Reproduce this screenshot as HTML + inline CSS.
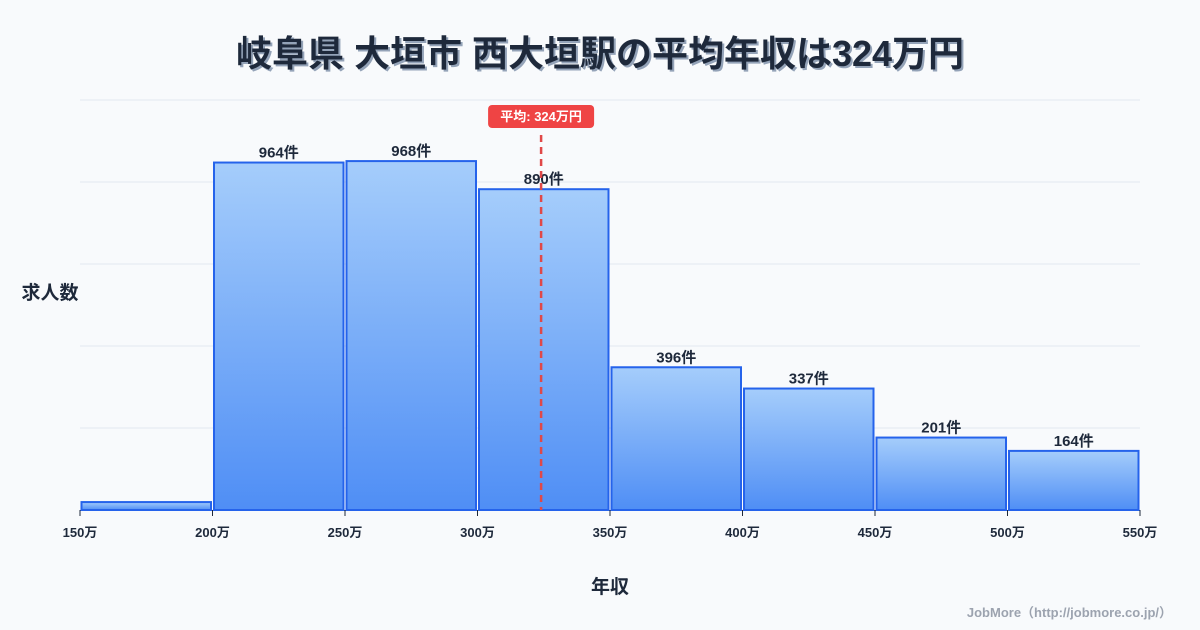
<!DOCTYPE html>
<html><head><meta charset="utf-8"><style>
body{margin:0;background:#f8fafc;}
svg{display:block;font-family:"Liberation Sans","Noto Sans CJK JP",sans-serif;}
</style></head><body>
<svg width="1200" height="630" viewBox="0 0 1200 630">
<defs><linearGradient id="g" x1="0" y1="0" x2="0" y2="1"><stop offset="0" stop-color="#a5cdfb"/><stop offset="1" stop-color="#4f8ef5"/></linearGradient></defs>
<rect width="1200" height="630" fill="#f8fafc"/>
<text x="602" y="68" text-anchor="middle" font-size="36" font-weight="bold" fill="#94a3b8">岐阜県 大垣市 西大垣駅の平均年収は324万円</text>
<text x="600" y="66" text-anchor="middle" font-size="36" font-weight="bold" fill="#1e293b">岐阜県 大垣市 西大垣駅の平均年収は324万円</text>
<g id="grid"></g>
<g id="bars"></g>
<g id="xaxis"></g>
<text x="50" y="299" text-anchor="middle" font-size="19" font-weight="bold" fill="#1e293b">求人数</text>
<text x="610" y="593" text-anchor="middle" font-size="19" font-weight="bold" fill="#1e293b">年収</text>
<g id="avg"></g>
<text x="1172" y="617" text-anchor="end" font-size="13" font-weight="bold" fill="#9ca3af">JobMore（http://jobmore.co.jp/）</text>
</svg>
<script>
const binStarts=[150,200,250,300,350,400,450,500];
const counts=[22,964,968,890,396,337,201,164];
const countLabels=["","964件","968件","890件","396件","337件","201件","164件"];
const tickLabels=["150万","200万","250万","300万","350万","400万","450万","500万","550万"];
const tickValues=[150,200,250,300,350,400,450,500,550];
const average=324;
const averageLabel="平均: 324万円";
const NS="http://www.w3.org/2000/svg";
const X0=80,X1=1140,Y0=510,Y1=100,XMIN=150,XMAX=550,YMAX=1137.5;
const xs=v=>X0+(v-XMIN)/(XMAX-XMIN)*(X1-X0);
const ys=v=>Y0-v/YMAX*(Y0-Y1);
function mk(t,a,p){const e=document.createElementNS(NS,t);for(const k in a)e.setAttribute(k,a[k]);p.appendChild(e);return e;}
const grid=document.getElementById('grid');
for(let i=0;i<=5;i++){const y=Y0-i*(Y0-Y1)/5;const l=mk('line',{x1:X0,x2:X1,y1:y,y2:y,stroke:'#e2e8f0','stroke-width':1},grid);

}
const bars=document.getElementById('bars');
binStarts.forEach((s,i)=>{const x=xs(s)+1.5,w=xs(s+50)-xs(s)-3,y=ys(counts[i]);
const r=mk('rect',{x:x,y:y,width:w,height:Y0-y,fill:'url(#g)',stroke:'#2563eb','stroke-width':2},bars);


if(countLabels[i]){const t=mk('text',{x:x+w/2,y:y-5,'text-anchor':'middle','font-size':15,'font-weight':'bold',fill:'#1e293b'},bars);t.textContent=countLabels[i];

}
});
const xa=document.getElementById('xaxis');
tickValues.forEach((v,i)=>{const x=xs(v);const l=mk('line',{x1:x,x2:x,y1:Y0,y2:Y0+6,stroke:'#1e293b','stroke-width':1},xa);


const t=mk('text',{x:x,y:Y0+27,'text-anchor':'middle','font-size':13,'font-weight':'bold',fill:'#1e293b'},xa);t.textContent=tickLabels[i];

});
const av=document.getElementById('avg');const ax=xs(average);
const dl=mk('line',{x1:ax,x2:ax,y1:135,y2:Y0,stroke:'#e04848','stroke-width':2.5,'stroke-dasharray':'7,5'},av);


const br=mk('rect',{x:ax-53,y:105,width:106,height:23,rx:4,fill:'#ef4444'},av);


const bt=mk('text',{x:ax,y:121,'text-anchor':'middle','font-size':13,'font-weight':'bold',fill:'#fff'},av);bt.textContent=averageLabel;


</script>
</body></html>
